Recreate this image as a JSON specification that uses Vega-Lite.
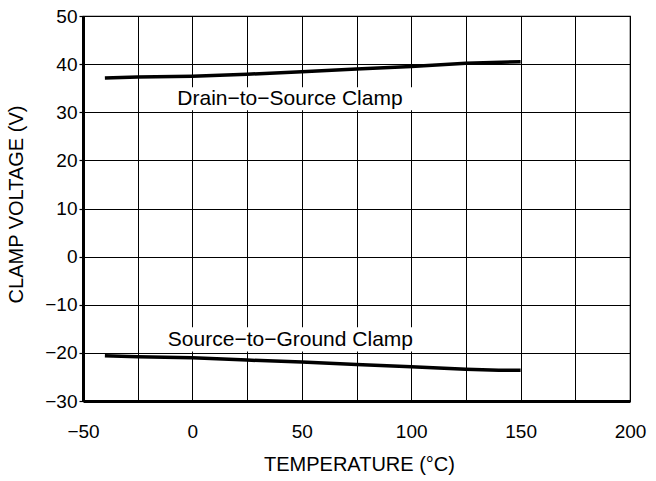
{
  "$schema": "https://vega.github.io/schema/vega-lite/v6.json",
  "autosize": "none",
  "width": 547,
  "height": 385,
  "padding": {"left": 83, "top": 16, "right": 26, "bottom": 80},
  "background": "white",
  "config": {
    "font": "Liberation Sans",
    "view": {"stroke": "#000", "strokeWidth": 1.2}
  },
  "datasets": {
    "curves": [
      {"series": "Drain-to-Source", "temp": -40, "volt": 37.1},
      {"series": "Drain-to-Source", "temp": -25, "volt": 37.3},
      {"series": "Drain-to-Source", "temp": 0, "volt": 37.5},
      {"series": "Drain-to-Source", "temp": 25, "volt": 37.9},
      {"series": "Drain-to-Source", "temp": 50, "volt": 38.4},
      {"series": "Drain-to-Source", "temp": 75, "volt": 39.0},
      {"series": "Drain-to-Source", "temp": 100, "volt": 39.5},
      {"series": "Drain-to-Source", "temp": 125, "volt": 40.2},
      {"series": "Drain-to-Source", "temp": 150, "volt": 40.5},
      {"series": "Source-to-Ground", "temp": -40, "volt": -20.6},
      {"series": "Source-to-Ground", "temp": -25, "volt": -20.8},
      {"series": "Source-to-Ground", "temp": 0, "volt": -21.0},
      {"series": "Source-to-Ground", "temp": 25, "volt": -21.5},
      {"series": "Source-to-Ground", "temp": 50, "volt": -21.9},
      {"series": "Source-to-Ground", "temp": 75, "volt": -22.4},
      {"series": "Source-to-Ground", "temp": 100, "volt": -22.9},
      {"series": "Source-to-Ground", "temp": 125, "volt": -23.4},
      {"series": "Source-to-Ground", "temp": 140, "volt": -23.6},
      {"series": "Source-to-Ground", "temp": 150, "volt": -23.6}
    ],
    "boxes": [
      {"x0": -10, "x1": 101, "y0": 30.4, "y1": 35.2},
      {"x0": -14, "x1": 101, "y0": -19.7, "y1": -14.7}
    ],
    "labels": [
      {"temp": 44.6, "volt": 31.5, "text": "Drain−to−Source Clamp"},
      {"temp": 44.8, "volt": -18.6, "text": "Source−to−Ground Clamp"}
    ]
  },
  "layer": [
    {
      "data": {"name": "boxes"},
      "mark": {"type": "rect", "fill": "white", "stroke": null},
      "encoding": {
        "x": {
          "field": "x0", "type": "quantitative",
          "title": "TEMPERATURE (°C)",
          "scale": {"domain": [-50, 200], "nice": false, "zero": false},
          "axis": {
            "values": [-50, -25, 0, 25, 50, 75, 100, 125, 150, 175, 200],
            "labelExpr": "datum.value % 50 === 0 ? datum.label : ''",
            "labelFlush": false,
            "labelOverlap": false,
            "labelFontSize": 19,
            "labelColor": "#000",
            "labelBaseline": "alphabetic",
            "labelPadding": 36,
            "tickSize": 0,
            "tickColor": "#000",
            "grid": true,
            "gridColor": "#000",
            "gridOpacity": 1,
            "gridWidth": 1,
            "domainColor": "#000",
            "domainWidth": 3,
            "titleFontSize": 20,
            "titleFontWeight": "normal",
            "titleColor": "#000",
            "titleBaseline": "alphabetic",
            "titleX": 276,
            "titleY": 69
          }
        },
        "x2": {"field": "x1"},
        "y": {
          "field": "y0", "type": "quantitative",
          "title": "CLAMP VOLTAGE (V)",
          "scale": {"domain": [-30, 50], "nice": false, "zero": false},
          "axis": {
            "values": [-30, -20, -10, 0, 10, 20, 30, 40, 50],
            "labelFontSize": 19,
            "labelColor": "#000",
            "labelPadding": 2,
            "tickSize": 4,
            "tickColor": "#000",
            "tickWidth": 1.2,
            "grid": true,
            "gridColor": "#000",
            "gridOpacity": 1,
            "gridWidth": 1,
            "domainColor": "#000",
            "domainWidth": 3,
            "titleFontSize": 20,
            "titleFontWeight": "normal",
            "titleColor": "#000",
            "titleBaseline": "alphabetic",
            "titleAngle": -90,
            "titleAlign": "center",
            "titleX": -61,
            "titleY": 188
          }
        },
        "y2": {"field": "y1"}
      }
    },
    {
      "data": {"name": "curves"},
      "mark": {"type": "line", "color": "#000", "strokeWidth": 3.5, "strokeCap": "butt"},
      "encoding": {
        "x": {"field": "temp", "type": "quantitative", "title": "TEMPERATURE (°C)"},
        "y": {"field": "volt", "type": "quantitative", "title": "CLAMP VOLTAGE (V)"},
        "detail": {"field": "series"}
      }
    },
    {
      "data": {"name": "labels"},
      "mark": {"type": "text", "fontSize": 21, "align": "center", "baseline": "alphabetic", "color": "#000"},
      "encoding": {
        "x": {"field": "temp", "type": "quantitative", "title": "TEMPERATURE (°C)"},
        "y": {"field": "volt", "type": "quantitative", "title": "CLAMP VOLTAGE (V)"},
        "text": {"field": "text"}
      }
    }
  ]
}
